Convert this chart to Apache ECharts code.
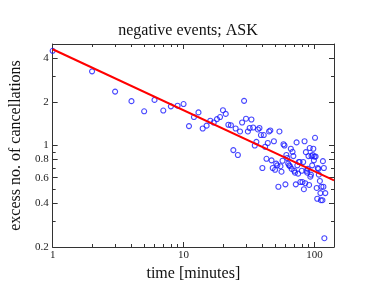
<!DOCTYPE html>
<html><head><meta charset="utf-8">
<script src="https://cdn.jsdelivr.net/npm/echarts@6/dist/echarts.min.js"></script>
<style>html,body{margin:0;padding:0;background:#fff}#c{width:376px;height:291px}</style>
</head><body><div id="c"></div>
<script>
const timeMinutes = [1,2,3,4,5,6,7,8,9,10,11,12,13,14,15,16,17,18,19,20,21,22,23,24,25,26,27,28,29,30,31,32,33,34,35,36,37,38,39,40,41,42,43,44,45,46,47,48,49,50,51,52,53,54,55,56,57,58,59,60,61,62,63,64,65,66,67,68,69,70,71,72,73,74,75,76,77,78,80,81,82,83,84,85,86,87,88,89,90,91,92,93,94,95,96,97,98,99,100,101,102,104,105,106,107,108,110,111,112,113,115,116,117,118,119,121];
const excessCancellations = [4.49,3.24,2.35,2.02,1.72,2.06,1.74,1.86,1.88,1.93,1.36,1.57,1.69,1.31,1.37,1.48,1.44,1.52,1.57,1.75,1.65,1.39,1.38,0.93,1.31,0.86,1.25,1.44,2.03,1.53,1.25,1.32,1.51,1.33,1.0,1.06,1.29,1.32,1.18,0.70,1.18,0.98,0.81,1.04,1.25,1.27,0.79,0.70,1.07,0.68,0.75,0.73,0.52,1.25,0.72,0.66,0.785,1.02,1.0,0.54,0.86,0.82,0.75,0.73,0.72,0.95,0.69,0.905,0.845,0.67,0.65,0.54,1.05,0.73,0.64,0.77,0.77,0.56,0.67,0.56,0.77,0.50,1.07,0.55,0.9,0.67,0.65,0.69,0.845,0.535,0.96,0.61,0.63,0.845,0.73,0.86,0.95,0.79,0.84,1.13,0.84,0.51,0.43,0.70,0.69,0.63,0.57,0.47,0.42,0.52,0.42,0.78,0.52,0.70,0.23,0.47];
const fitX = [1, 141];
const fitY = [4.6, 0.575];
const xMajorTicks = [1, 10, 100];
const xMinorTicks = [2,3,4,5,6,7,8,9,20,30,40,50,60,70,80,90];
const yMajorTicks = [0.2, 0.4, 0.6, 0.8, 1, 2, 4];
const yMinorTicks = [0.3, 0.5, 0.7, 0.9, 3];
const xMin = 1, xMax = 141, yMin = 0.2, yMax = 5;

const FONT = 'Liberation Serif';
const AX = '#333';
function fmt(v){ return String(+Number(v).toPrecision(3)); }

function xAx(pos, ticks, len, main){
  return {
    type: 'log', logBase: 10, min: xMin, max: xMax, position: pos,
    axisLine: { show: main, lineStyle: { color: AX, width: 1 } },
    axisTick: { show: true, inside: true, length: len, customValues: ticks, lineStyle: { color: AX } },
    axisLabel: { show: main && pos === 'bottom', customValues: xMajorTicks, formatter: fmt, fontFamily: FONT, fontSize: 11, color: '#222', margin: 3 },
    splitLine: { show: false },
    name: (main && pos === 'bottom') ? 'time [minutes]' : '',
    nameLocation: 'middle', nameGap: 11,
    nameTextStyle: { fontFamily: FONT, fontSize: 16, color: '#111' }
  };
}
function yAx(pos, ticks, len, main){
  return {
    type: 'log', logBase: 10, min: yMin, max: yMax, position: pos,
    axisLine: { show: main, lineStyle: { color: AX, width: 1 } },
    axisTick: { show: true, inside: true, length: len, customValues: ticks, lineStyle: { color: AX } },
    axisLabel: { show: main && pos === 'left', customValues: yMajorTicks, formatter: fmt, fontFamily: FONT, fontSize: 11, color: '#222', margin: 4 },
    splitLine: { show: false },
    name: (main && pos === 'left') ? 'excess no. of cancellations' : '',
    nameLocation: 'middle', nameGap: 15,
    nameTextStyle: { fontFamily: FONT, fontSize: 16, color: '#111' }
  };
}

const chart = echarts.init(document.getElementById('c'), null, { renderer: 'canvas' });
chart.setOption({
  animation: false,
  backgroundColor: '#fff',
  title: { text: 'negative events; ASK', left: 'center', top: 18, textStyle: { fontFamily: FONT, fontSize: 16, fontWeight: 'normal', color: '#111' } },
  grid: { left: 44, right: 42, top: 44, bottom: 44, containLabel: false },
  xAxis: [
    xAx('bottom', xMajorTicks, 5, true),
    xAx('bottom', xMinorTicks, 3, false),
    xAx('top', xMajorTicks, 5, true),
    xAx('top', xMinorTicks, 3, false)
  ],
  yAxis: [
    yAx('left', yMajorTicks, 5, true),
    yAx('left', yMinorTicks, 3, false),
    yAx('right', yMajorTicks, 5, true),
    yAx('right', yMinorTicks, 3, false)
  ],
  series: [
    {
      type: 'scatter', xAxisIndex: 0, yAxisIndex: 0,
      data: timeMinutes.map((t, i) => [t, excessCancellations[i]]),
      symbol: 'circle', symbolSize: 5,
      itemStyle: { color: 'rgba(0,0,0,0)', borderColor: '#1a1aff', borderWidth: 1.1 },
      z: 2
    },
    {
      type: 'line', xAxisIndex: 0, yAxisIndex: 0,
      data: fitX.map((t, i) => [t, fitY[i]]),
      symbol: 'none', lineStyle: { color: '#ff0000', width: 2 },
      z: 3
    }
  ]
});
</script>
</body></html>
